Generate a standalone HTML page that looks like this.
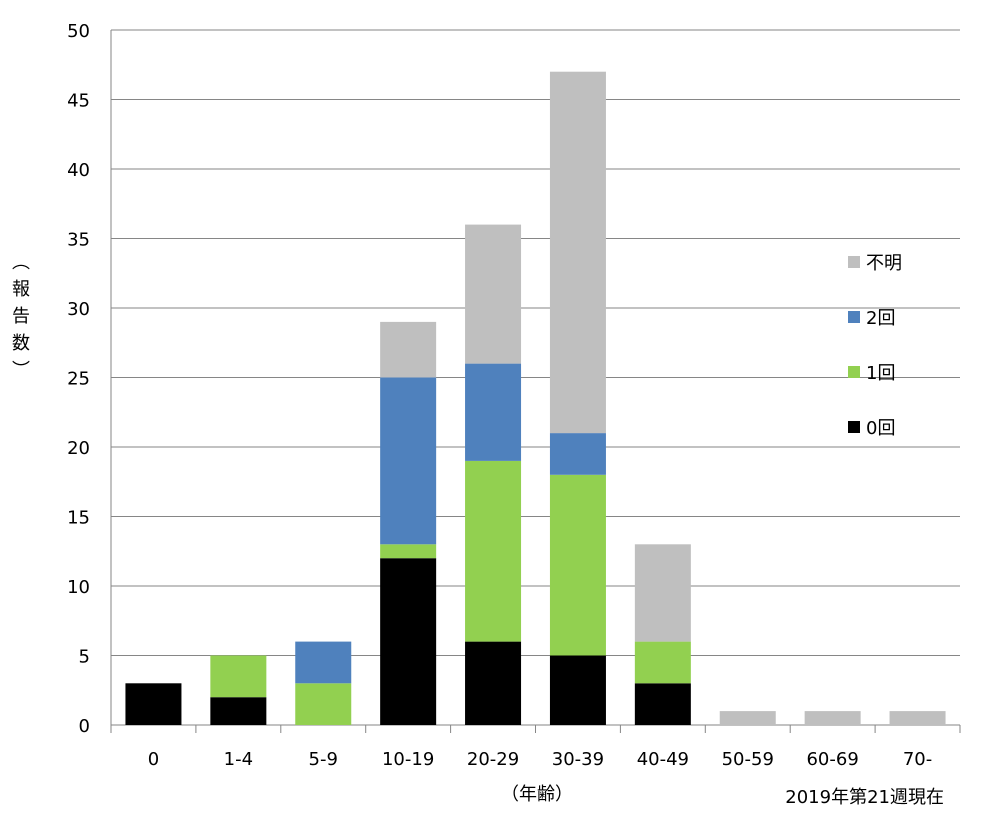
<!DOCTYPE html>
<html><head><meta charset="utf-8"><style>
body{margin:0;background:#fff;}
svg text{font-family:"DejaVu Sans","Noto Sans CJK JP",sans-serif;font-size:18px;fill:#000;}
</style></head><body>
<svg id="chart" width="981" height="822"></svg>
<script>
const categories=["0","1-4","5-9","10-19","20-29","30-39","40-49","50-59","60-69","70-"];
const dose0=[3,2,0,12,6,5,3,0,0,0];
const dose1=[0,3,3,1,13,13,3,0,0,0];
const dose2=[0,0,3,12,7,3,0,0,0,0];
const unknown=[0,0,0,4,10,26,7,1,1,1];
const yTicks=[0,5,10,15,20,25,30,35,40,45,50];
const seriesNames=["0回","1回","2回","不明"];
const colors=["#000000","#92d050","#4f81bd","#bfbfbf"];
const series=[dose0,dose1,dose2,unknown];
const svg=document.getElementById('chart');
const NS="http://www.w3.org/2000/svg";
const L=111,R=960,T=30,B=725,yMax=50;
const y=v=>B-(v/yMax)*(B-T);
const bw=(R-L)/categories.length;
const x=i=>L+i*bw;
function mk(t,a,p){const e=document.createElementNS(NS,t);for(const k in a)e.setAttribute(k,a[k]);(p||svg).appendChild(e);return e;}
yTicks.forEach(v=>{
 const g=mk('line',{x1:L,x2:R,y1:y(v),y2:y(v),stroke:'#868686','stroke-width':1});
 
 
 const t=mk('text',{x:90,y:y(v)+7,'text-anchor':'end'});t.textContent=v;
 
 
});
const ax=mk('line',{x1:L,x2:L,y1:T,y2:B,stroke:'#868686'});


for(let i=0;i<=categories.length;i++){
 const tk=mk('line',{x1:x(i),x2:x(i),y1:B,y2:B+8,stroke:'#868686'});
 
 
}
categories.forEach((c,i)=>{
 let acc=0;
 series.forEach((s,k)=>{
  if(s[i]>0){
   const r=mk('rect',{x:x(i)+bw/2-28,y:y(acc+s[i]),width:56,height:y(acc)-y(acc+s[i]),fill:colors[k]});
   
   
  }
  acc+=s[i];
 });
 const t=mk('text',{x:x(i)+bw/2,y:765,'text-anchor':'middle'});t.textContent=c;
 
 
});
[3,2,1,0].forEach((k,j)=>{
 const ly=262+j*55;
 const r=mk('rect',{x:848,y:ly-6,width:12,height:12,fill:colors[k]});
 
 
 const t=mk('text',{x:866,y:ly+7});t.textContent=seriesNames[k];
 
 
});
const yl=mk('text',{x:20,y:268,'font-size':'18'});


["︵","報","告","数","︶"].forEach((ch,i)=>{const ts=mk('tspan',{x:12,y:268+i*27},yl);ts.textContent=ch;});
const xl=mk('text',{x:537,y:800,'text-anchor':'middle','font-size':'18'});xl.textContent="（年齢）";


const note=mk('text',{x:944,y:803,'text-anchor':'end'});note.textContent="2019年第21週現在";


</script>
</body></html>
